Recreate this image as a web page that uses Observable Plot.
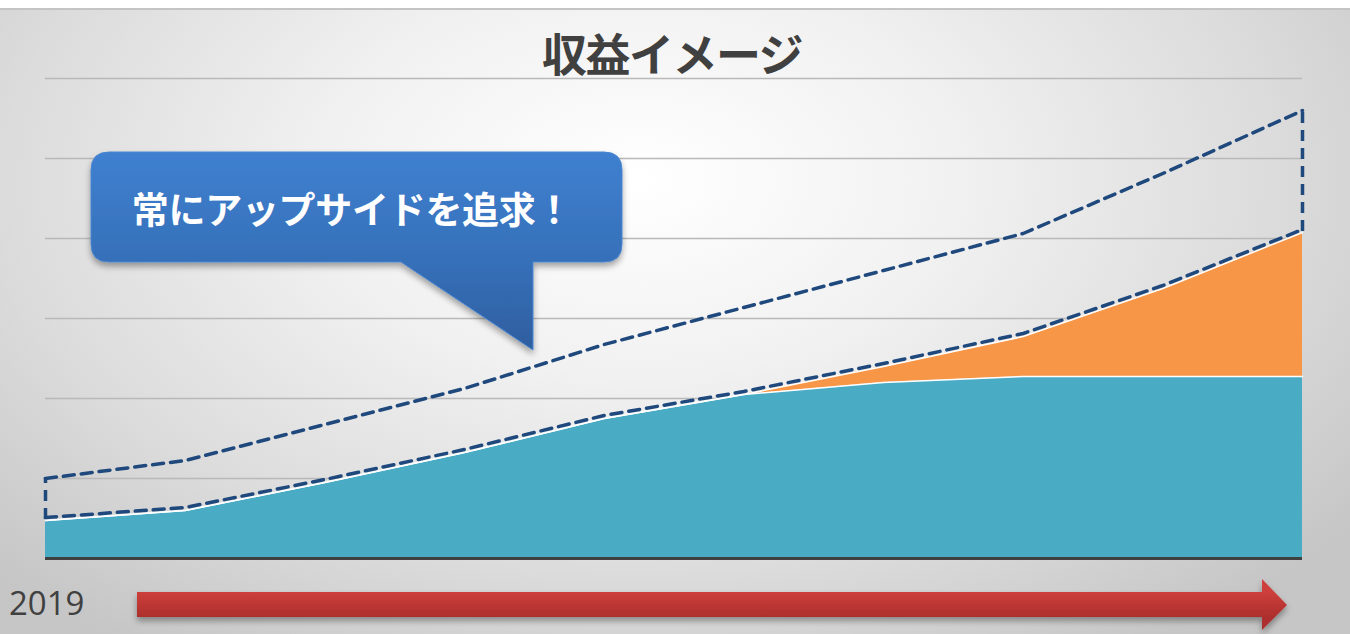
<!DOCTYPE html>
<html>
<head>
<meta charset="utf-8">
<script src="https://cdn.jsdelivr.net/npm/d3@7"></script>
<script src="https://cdn.jsdelivr.net/npm/@observablehq/plot@0.6"></script>
<style>
  html, body { margin: 0; padding: 0; background: #ffffff; }
  #page { position: relative; width: 1350px; height: 634px; overflow: hidden; background: #ffffff; }
  #bg { position: absolute; left: 0; top: 8px; width: 1350px; height: 626px;
        border-top: 2px solid #c4c4c4; box-sizing: border-box;
        background: radial-gradient(ellipse 900px 560px at 640px 170px, #ffffff 0%, #f1f1f1 35%, #dcdcdc 70%, #c6c6c6 100%); }
  #chart { position: absolute; left: 0; top: 0; }
  #chart svg { background: transparent !important; }
  #title { position: absolute; left: 0; width: 1344px; top: 26px; text-align: center;
           font-family: "Noto Sans CJK JP", sans-serif; font-weight: 700; font-size: 45px;
           color: #404040; line-height: 1.2; letter-spacing: -1.5px; }
  #year { position: absolute; left: 9px; top: 583px; font-family: "Open Sans", sans-serif;
          font-size: 33px; color: #404040; line-height: 1.2; }
  #deco { position: absolute; left: 0; top: 0; }
</style>
</head>
<body>
<div id="page">
  <div id="bg"></div>
  <div id="chart"></div>
  <svg id="deco" width="1350" height="634" viewBox="0 0 1350 634">
    <defs>
      <linearGradient id="bubbleGrad" x1="0" y1="152" x2="0" y2="350" gradientUnits="userSpaceOnUse">
        <stop offset="0" stop-color="#3f80d0"/>
        <stop offset="0.55" stop-color="#3670b9"/>
        <stop offset="1" stop-color="#2e5e9f"/>
      </linearGradient>
      <linearGradient id="arrowGrad" x1="0" y1="592" x2="0" y2="617" gradientUnits="userSpaceOnUse">
        <stop offset="0" stop-color="#cd3f3b"/>
        <stop offset="1" stop-color="#ad2f2d"/>
      </linearGradient>
      <filter id="shadow" x="-10%" y="-20%" width="120%" height="160%">
        <feDropShadow dx="0" dy="4" stdDeviation="3" flood-color="#000" flood-opacity="0.35"/>
      </filter>
    </defs>
    <path d="M109,152 H604 Q622,152 622,170 V244 Q622,262 604,262 H533 V350 L401,262 H109 Q91,262 91,244 V170 Q91,152 109,152 Z"
          fill="url(#bubbleGrad)" stroke="#4a86cf" stroke-width="1" filter="url(#shadow)"/>
    <text x="352" y="224" text-anchor="middle" fill="#ffffff"
          font-family="Noto Sans CJK JP, sans-serif" font-weight="700" font-size="37" letter-spacing="-0.3">常にアップサイドを追求！</text>
    <path d="M137,592 H1262 V579 L1287,605 L1262,630 V617 H137 Z"
          fill="url(#arrowGrad)" filter="url(#shadow)"/>
  </svg>
  <div id="title">収益イメージ</div>
  <div id="year">2019</div>
</div>
<script>
// ---- data ----
const steps   = [0, 1, 2, 3, 4, 5, 6, 7, 8, 9];
const base    = [9.5, 12, 19, 26.5, 35, 41, 44, 45.5, 45.5, 45.5];
const upside  = [0, 0, 0, 0, 0, 0, 4, 10, 22, 36];
const upper   = [20, 24.5, 33.5, 42.5, 53.5, 62.75, 72, 81.25, 96.25, 112];
const gridTicks = [20, 40, 60, 80, 100, 120];

const data = steps.map((s, i) => ({
  step: s,
  base: base[i],
  total: base[i] + upside[i],
  upper: upper[i]
}));
const ends = [data[0], data[data.length - 1]];

const dash = { stroke: "#1f497d", strokeWidth: 3.5, strokeDasharray: "11,7" };

const chart = Plot.plot({
  width: 1350,
  height: 634,
  marginTop: 78,
  marginBottom: 76,
  marginLeft: 45,
  marginRight: 48,
  x: { domain: [0, 9], axis: null },
  y: { domain: [0, 120], axis: null },
  style: { background: "transparent" },
  marks: [
    Plot.ruleY(gridTicks, { stroke: "#b9b9b9", strokeWidth: 1.5 }),
    Plot.areaY(data, { x: "step", y1: 0, y2: "base", fill: "#4aabc5", curve: "linear" }),
    Plot.areaY(data, { x: "step", y1: "base", y2: "total", fill: "#f79646", curve: "linear" }),
    Plot.lineY(data, { x: "step", y: "base", stroke: "#ffffff", strokeWidth: 1.5 }),
    Plot.lineY(data, { x: "step", y: "total", stroke: "#ffffff", strokeWidth: 1.5 }),
    Plot.ruleY([0], { stroke: "#404040", strokeWidth: 3 }),
    Plot.lineY(data, { x: "step", y: "total", dy: -3, ...dash }),
    Plot.lineY(data, { x: "step", y: "upper", ...dash }),
    Plot.ruleX(ends, { x: "step", y1: "total", y2: "upper", dy: -1, ...dash })
  ]
});
document.getElementById("chart").appendChild(chart);
</script>
</body>
</html>
